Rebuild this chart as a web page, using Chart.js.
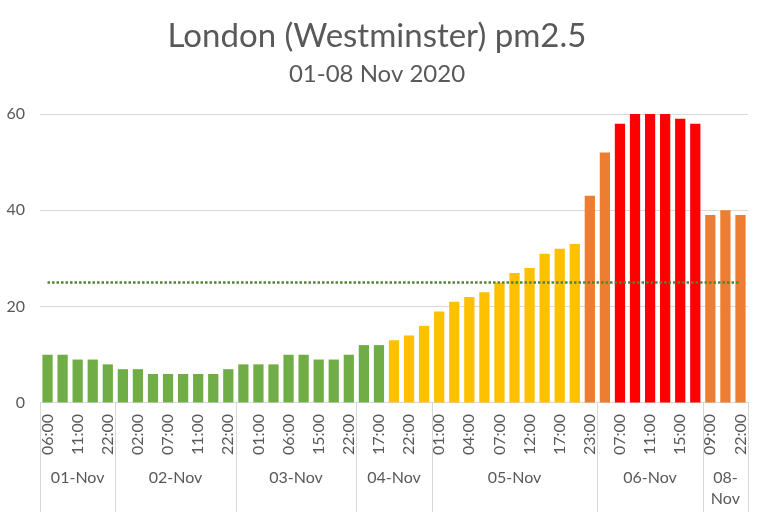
<!DOCTYPE html>
<html>
<head>
<meta charset="utf-8">
<title>London (Westminster) pm2.5</title>
<script src="https://cdn.jsdelivr.net/npm/chart.js@4"></script>
<style>
  html, body { margin: 0; padding: 0; background: #fff; }
  #wrap { width: 768px; height: 512px; position: relative; }
</style>
</head>
<body>
<div id="wrap"><canvas id="myChart"></canvas></div>
<script>
/* Data */
const hours = [
  '06:00', '08:00', '11:00', '17:00', '22:00',
  '00:00', '02:00', '05:00', '07:00', '09:00', '11:00', '16:00', '22:00',
  '00:00', '01:00', '03:00', '06:00', '10:00', '15:00', '20:00', '22:00',
  '16:00', '17:00', '20:00', '22:00', '23:00',
  '01:00', '03:00', '04:00', '06:00', '07:00', '10:00', '12:00', '15:00', '17:00', '20:00', '23:00',
  '05:00', '07:00', '09:00', '11:00', '13:00', '15:00', '18:00',
  '09:00', '15:00', '22:00'
];
const pm25 = [
  10, 10, 9, 9, 8,
  7, 7, 6, 6, 6, 6, 6, 7,
  8, 8, 8, 10, 10, 9, 9, 10,
  12, 12, 13, 14, 16,
  19, 21, 22, 23, 25, 27, 28, 31, 32, 33, 43,
  52, 58, 60, 60, 60, 59, 58,
  39, 40, 39
];
const days = ['01-Nov', '02-Nov', '03-Nov', '04-Nov', '05-Nov', '06-Nov', '08-Nov'];
const dayCounts = [5, 8, 8, 5, 11, 7, 3];
const guideline = 25;
const yTicks = [0, 20, 40, 60];

// colour bands: value <= limit gets that colour
const bandLimits = [12, 35, 53, Infinity];
const bandColors = ['#70AD47', '#FFC000', '#ED7D31', '#FF0000'];

const textColor = '#595959';
const gridColor = '#d9d9d9';
const font = 'Lato';

function bandColor(v) {
  for (let i = 0; i < bandLimits.length; i++) {
    if (v <= bandLimits[i]) return bandColors[i];
  }
}

/* day groups below the hour labels */
const dayGroups = {
  id: 'dayGroups',
  afterDraw(chart) {
    const ctx = chart.ctx;
    const xs = chart.scales.x;
    const step = xs.getPixelForValue(1) - xs.getPixelForValue(0);
    const top = chart.chartArea.bottom;
    const bottom = chart.height;
    const labelY = bottom - 34;
    ctx.save();
    ctx.strokeStyle = gridColor;
    ctx.lineWidth = 1;
    ctx.fillStyle = textColor;
    ctx.font = '16px ' + font;
    ctx.textAlign = 'center';
    ctx.textBaseline = 'middle';
    let start = 0;
    days.forEach((d, i) => {
      const end = start + dayCounts[i] - 1;
      const left = xs.getPixelForValue(start) - step / 2;
      const right = xs.getPixelForValue(end) + step / 2;
      ctx.beginPath();
      ctx.moveTo(Math.round(left) + 0.5, top);
      ctx.lineTo(Math.round(left) + 0.5, bottom);
      if (i === days.length - 1) {
        ctx.moveTo(Math.round(right) + 0.5, top);
        ctx.lineTo(Math.round(right) + 0.5, bottom);
      }
      ctx.stroke();
      let lines = [d];
      if (ctx.measureText(d).width > right - left - 8) {
        const k = d.indexOf('-') + 1;
        lines = [d.slice(0, k), d.slice(k)];
      }
      lines.forEach((t, j) => ctx.fillText(t, (left + right) / 2, labelY + j * 21));
      start = end + 1;
    });
    ctx.restore();
  }
};

const ctx = document.getElementById('myChart');

new Chart(ctx, {
  type: 'bar',
  data: {
    labels: hours,
    datasets: [{
      type: 'line',
      label: 'Guideline',
      data: hours.map(() => guideline),
      borderColor: '#548235',
      borderWidth: 2.5,
      borderDash: [2.5, 2],
      pointRadius: 0,
      fill: false,
      order: 0
    }, {
      label: 'pm2.5',
      data: pm25,
      backgroundColor: pm25.map(bandColor),
      borderWidth: 0,
      barPercentage: 0.68,
      categoryPercentage: 1,
      order: 1
    }]
  },
  options: {
    responsive: true,
    maintainAspectRatio: false,
    animation: false,
    layout: { padding: { left: 6, right: 20, top: 0, bottom: 46 } },
    plugins: {
      legend: { display: false },
      tooltip: { enabled: false },
      title: {
        display: true,
        text: 'London (Westminster) pm2.5',
        color: textColor,
        font: { family: font, size: 33, weight: 'normal' },
        padding: { top: 17, bottom: 3 }
      },
      subtitle: {
        display: true,
        text: '01-08 Nov 2020',
        color: textColor,
        font: { family: font, size: 24, weight: 'normal' },
        padding: { top: 0, bottom: 25.6 }
      }
    },
    scales: {
      x: {
        grid: { display: false, drawTicks: false },
        border: { display: true, color: gridColor, width: 1 },
        afterFit: axis => { axis.paddingLeft = 0; axis.paddingRight = 0; },
        ticks: {
          color: textColor,
          font: { family: font, size: 16 },
          minRotation: 90,
          maxRotation: 90,
          padding: 11,
          autoSkip: false,
          callback: (v, i) => (i % 2 === 0 ? hours[i] : '')
        }
      },
      y: {
        min: yTicks[0],
        max: yTicks[yTicks.length - 1],
        grid: { color: gridColor, drawTicks: false },
        border: { display: false },
        afterBuildTicks: axis => { axis.ticks = yTicks.map(v => ({ value: v })); },
        afterFit: axis => { axis.width = 34; },
        ticks: {
          color: textColor,
          font: { family: font, size: 16 },
          padding: 15
        }
      }
    }
  },
  plugins: [dayGroups]
});
</script>
</body>
</html>
